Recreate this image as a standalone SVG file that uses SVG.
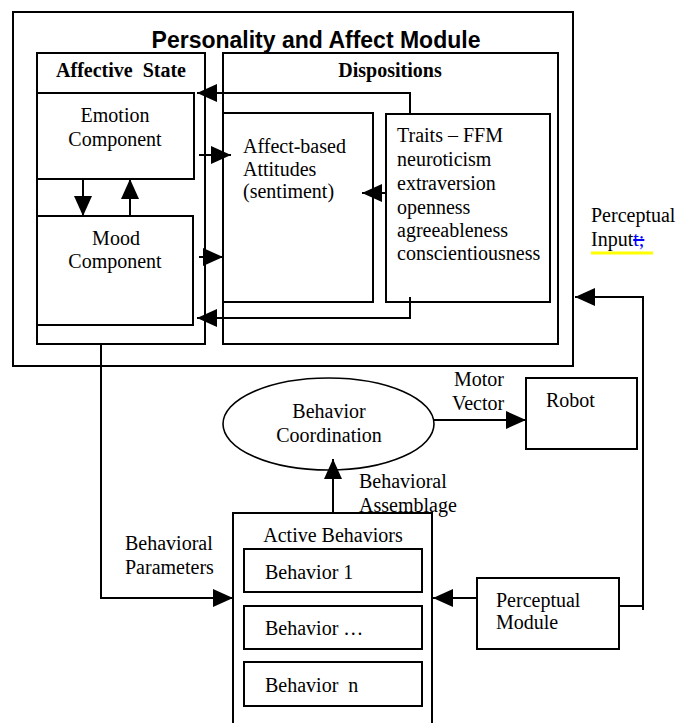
<svg xmlns="http://www.w3.org/2000/svg" width="676" height="723" viewBox="0 0 676 723">
<style>
.box{fill:none;stroke:#000;stroke-width:2}
.ln{fill:none;stroke:#000;stroke-width:2}
.t{font-family:"Liberation Serif","Times New Roman",serif;font-size:20px;fill:#000}
.b{font-weight:bold}
.m{text-anchor:middle}
</style>
<defs>
<marker id="ah" markerWidth="20" markerHeight="18" refX="20" refY="9" orient="auto" markerUnits="userSpaceOnUse">
<path d="M0,0 L20,9 L0,18 Z" fill="#000"/>
</marker>
</defs>
<rect width="676" height="723" fill="#fff"/>

<g id="module">
<rect class="box" x="13" y="12" width="560" height="354"/>
<text x="316" y="48" text-anchor="middle" font-family="Liberation Sans, Arial, sans-serif" font-weight="bold" font-size="23">Personality and Affect Module</text>
</g>

<g id="affective-state">
<rect class="box" x="37" y="53" width="168" height="291"/>
<text class="t b m" x="121" y="77" xml:space="preserve">Affective  State</text>
</g>

<g id="dispositions">
<rect class="box" x="223" y="53" width="335" height="291"/>
<text class="t b m" x="390" y="77">Dispositions</text>
</g>

<g id="emotion">
<rect class="box" x="37" y="93" width="157" height="86"/>
<text class="t m" x="115" y="122">Emotion</text>
<text class="t m" x="115" y="146">Component</text>
</g>

<g id="mood">
<rect class="box" x="37" y="216" width="156" height="109"/>
<text class="t m" x="116" y="245">Mood</text>
<text class="t m" x="115" y="268">Component</text>
</g>

<g id="attitudes">
<rect class="box" x="223" y="113" width="150" height="189"/>
<text class="t" x="243" y="153">Affect-based</text>
<text class="t" x="243" y="176">Attitudes</text>
<text class="t" x="243" y="198">(sentiment)</text>
</g>

<g id="traits">
<rect class="box" x="386" y="114" width="164" height="188"/>
<text class="t" x="397" y="142">Traits – FFM</text>
<text class="t" x="397" y="166">neuroticism</text>
<text class="t" x="397" y="190">extraversion</text>
<text class="t" x="397" y="214">openness</text>
<text class="t" x="397" y="237">agreeableness</text>
<text class="t" x="397" y="260">conscientiousness</text>
</g>

<g id="behavior-coordination">
<ellipse cx="328.5" cy="424" rx="105.5" ry="46" fill="none" stroke="#000" stroke-width="1.6"/>
<text class="t m" x="329" y="418">Behavior</text>
<text class="t m" x="329" y="442">Coordination</text>
</g>

<g id="robot">
<rect class="box" x="526" y="378" width="111" height="71"/>
<text class="t" x="546" y="407">Robot</text>
</g>

<g id="active-behaviors">
<path class="ln" d="M233,723 V513 H432 V723"/>
<text class="t m" x="333" y="542">Active Behaviors</text>
</g>

<g id="behavior-1">
<rect class="box" x="244" y="549" width="178" height="43"/>
<text class="t" x="265" y="579">Behavior 1</text>
</g>
<g id="behavior-dots">
<rect class="box" x="244" y="606" width="178" height="43"/>
<text class="t" x="265" y="635">Behavior …</text>
</g>
<g id="behavior-n">
<rect class="box" x="244" y="662" width="178" height="44"/>
<text class="t" x="265" y="692" xml:space="preserve">Behavior  n</text>
</g>

<g id="perceptual-module">
<rect class="box" x="477" y="578" width="142" height="71"/>
<text class="t" x="496" y="607">Perceptual</text>
<text class="t" x="496" y="629">Module</text>
</g>

<g id="connectors">
<path class="ln" d="M410,114 V93 H197" marker-end="url(#ah)"/>
<path class="ln" d="M410,297 V318 H197" marker-end="url(#ah)"/>
<path class="ln" d="M386,193 H362" marker-end="url(#ah)"/>
<path class="ln" d="M199,155 H231" marker-end="url(#ah)"/>
<path class="ln" d="M199,257 H223" marker-end="url(#ah)"/>
<path class="ln" d="M83,179 V216" marker-end="url(#ah)"/>
<path class="ln" d="M130,216 V179" marker-end="url(#ah)"/>
<path class="ln" d="M101,344 V598 H233" marker-end="url(#ah)"/>
<path class="ln" d="M333,513 V459" marker-end="url(#ah)"/>
<path class="ln" d="M434,420 H526" marker-end="url(#ah)"/>
<path class="ln" d="M477,598 H433" marker-end="url(#ah)"/>
<path class="ln" d="M619,606 H643 V297 H575" marker-end="url(#ah)"/>
<line class="ln" x1="643" y1="606" x2="643" y2="610"/>
</g>

<g id="labels">
<text class="t" x="125" y="550">Behavioral</text>
<text class="t" x="125" y="574">Parameters</text>
<text class="t" x="359" y="488">Behavioral</text>
<text class="t" x="359" y="512">Assemblage</text>
<text class="t" x="454" y="386">Motor</text>
<text class="t" x="452" y="410">Vector</text>
<text class="t" x="591" y="222">Perceptual</text>
<line x1="591" y1="253" x2="653" y2="253" stroke="#ff0" stroke-width="3"/>
<text class="t" x="591" y="246">Input<tspan fill="#00f" text-decoration="line-through">t;</tspan></text>
</g>
</svg>
